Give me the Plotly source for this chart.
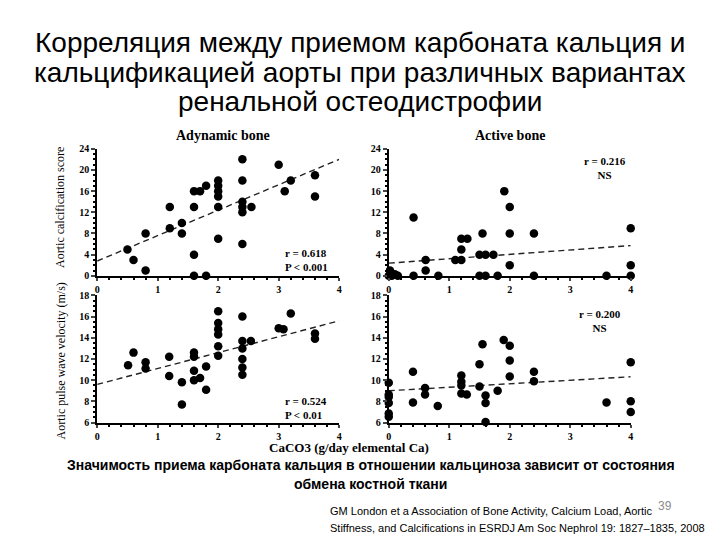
import plotly.graph_objects as go

# ---------------- data ----------------
ady_calc_x = [0.5, 0.6, 0.8, 0.8, 1.2, 1.2, 1.4, 1.4, 1.6, 1.7, 1.6, 1.6, 1.6, 1.8, 1.8,
              2.0, 2.0, 2.0, 2.0, 2.0, 2.0, 2.4, 2.4, 2.4, 2.4, 2.4, 2.4, 2.55, 3.0, 3.1,
              3.2, 3.6, 3.6]
ady_calc_y = [5, 3, 8, 1, 13, 9, 10, 8, 16, 16, 13, 4, 0, 17, 0,
              18, 17, 16, 15, 13, 7, 22, 18, 14, 13, 12, 6, 13, 21, 16,
              18, 19, 15]

act_calc_x = [0.0, 0.02, 0.05, 0.05, 0.1, 0.15, 0.41, 0.41, 0.61, 0.61, 0.82, 1.1, 1.2, 1.2,
              1.2, 1.3, 1.5, 1.55, 1.5, 1.6, 1.6, 1.73, 1.8, 1.91, 2.0, 2.0, 2.0, 2.4,
              2.4, 3.6, 4.0, 4.0, 4.0]
act_calc_y = [0, 1, 0, 0.5, 0.3, 0, 11, 0, 3, 1, 0, 3, 3, 5,
              7, 7, 4, 8, 0, 4, 0, 4, 0, 16, 13, 8, 2, 8,
              0, 0, 9, 2, 0]

ady_pwv_x = [0.51, 0.6, 0.8, 0.8, 1.19, 1.19, 1.4, 1.4, 1.6, 1.6, 1.6, 1.6, 1.7, 1.8, 1.8,
             2.0, 2.0, 2.0, 2.0, 2.0, 2.0, 2.4, 2.4, 2.4, 2.4, 2.4, 2.4, 2.54, 3.0, 3.08,
             3.2, 3.6, 3.6]
ady_pwv_y = [11.4, 12.6, 11.7, 11.1, 12.2, 10.4, 9.8, 7.7, 12.6, 12.2, 10.9, 10.0, 10.2, 11.3, 9.1,
             16.5, 15.4, 14.8, 14.3, 13.2, 12.3, 16.0, 13.7, 13.0, 12.0, 11.2, 10.5, 13.7, 14.9, 14.8,
             16.3, 14.4, 13.9]

act_pwv_x = [0.0, 0.0, 0.0, 0.0, 0.0, 0.0, 0.4, 0.4, 0.6, 0.6, 0.81, 1.2, 1.2, 1.2, 1.2, 1.29,
             1.5, 1.5, 1.55, 1.6, 1.6, 1.6, 1.8, 1.9, 2.0, 2.0, 2.0, 2.4, 2.4, 3.6,
             4.0, 4.0, 4.0]
act_pwv_y = [9.75, 8.65, 8.4, 7.85, 6.85, 6.55, 10.8, 7.9, 9.25, 8.65, 7.55, 10.45, 9.85, 9.5, 8.75, 8.65,
             11.5, 9.4, 13.4, 8.55, 7.85, 6.05, 9.0, 13.8, 13.25, 11.85, 10.35, 10.8, 9.9, 7.9,
             11.7, 8.0, 7.0]

# regression lines (intercept, slope) per panel
fit_intercepts = [2.8, 2.4, 9.6, 9.0]
fit_slopes = [4.8, 0.83, 1.5, 0.33]
fit_x = [0, 4]

panel_titles = ["Adynamic bone", "Active bone"]
stat_texts = ["r = 0.618<br>P < 0.001", "r = 0.216<br>NS", "r = 0.524<br>P < 0.01", "r = 0.200<br>NS"]

title_lines = ["Корреляция между приемом карбоната кальция и",
               "кальцификацией аорты при различных вариантах",
               "ренальной остеодистрофии"]
subtitle_lines = ["Значимость приема карбоната кальция в отношении кальциноза зависит от состояния",
                  "обмена костной ткани"]
citation_lines = ["GM London et a Association of Bone Activity, Calcium Load, Aortic",
                  "Stiffness, and Calcifications in ESRDJ Am Soc Nephrol 19: 1827\u20131835, 2008"]
page_number = "39"

# ---------------- figure ----------------
W, H = 720, 540
def px(x):
    return x / W
def py(y):
    return 1 - y / H

fig = go.Figure()

panels = [
    (ady_calc_x, ady_calc_y, "x", "y"),
    (act_calc_x, act_calc_y, "x2", "y2"),
    (ady_pwv_x, ady_pwv_y, "x3", "y3"),
    (act_pwv_x, act_pwv_y, "x4", "y4"),
]

for i, (xs, ys, xa, ya) in enumerate(panels):
    fx = fit_x
    fy = [fit_intercepts[i] + fit_slopes[i] * v for v in fx]
    fig.add_trace(go.Scatter(x=fx, y=fy, xaxis=xa, yaxis=ya, mode="lines",
                             line=dict(color="#222222", width=1.4, dash="6px,4px"),
                             hoverinfo="skip", showlegend=False, cliponaxis=False))
    fig.add_trace(go.Scatter(x=xs, y=ys, xaxis=xa, yaxis=ya, mode="markers",
                             marker=dict(color="black", size=8.5, symbol="circle"),
                             showlegend=False, cliponaxis=False))

xdoms = [(px(95), px(339)), (px(389), px(633))]
ydoms_top = (py(276), py(146))
ydoms_bot = (py(426), py(296))

tickfont = dict(family="Liberation Serif", size=10, color="black", weight="bold")
common_x = dict(range=[0, 4.0], tickmode="array", tickvals=[0, 1, 2, 3, 4], ticks="outside",
                ticklen=3, tickwidth=1.5, showline=True, linecolor="black", linewidth=2,
                showgrid=False, zeroline=False, tickfont=tickfont,
                minor=dict(ticks="outside", ticklen=2, dtick=0.2, tickcolor="black"))
common_y = dict(ticks="outside", ticklen=4, tickwidth=1.5, showline=True, linecolor="black",
                linewidth=2, showgrid=False, zeroline=False, tickfont=tickfont)

fig.update_layout(
    width=W, height=H, margin=dict(l=0, r=0, t=0, b=0),
    paper_bgcolor="white", plot_bgcolor="white",
    xaxis=dict(domain=xdoms[0], anchor="y", **common_x),
    xaxis2=dict(domain=xdoms[1], anchor="y2", **common_x),
    xaxis3=dict(domain=xdoms[0], anchor="y3", **common_x),
    xaxis4=dict(domain=xdoms[1], anchor="y4", **common_x),
    yaxis=dict(domain=ydoms_top, anchor="x", range=[0, 24], dtick=4,
               minor=dict(ticks="outside", ticklen=2, dtick=1, tickcolor="black"), **common_y),
    yaxis2=dict(domain=ydoms_top, anchor="x2", range=[0, 24], dtick=4,
                minor=dict(ticks="outside", ticklen=2, dtick=1, tickcolor="black"), **common_y),
    yaxis3=dict(domain=ydoms_bot, anchor="x3", range=[6, 18], dtick=2,
                minor=dict(ticks="outside", ticklen=2, dtick=0.5, tickcolor="black"), **common_y),
    yaxis4=dict(domain=ydoms_bot, anchor="x4", range=[6, 18], dtick=2,
                minor=dict(ticks="outside", ticklen=2, dtick=0.5, tickcolor="black"), **common_y),
)

ann = []
sans = "Liberation Sans"
serif = "Liberation Serif"
# title lines
for yy, t in zip([37, 68, 98], title_lines):
    ann.append(dict(x=px(360), y=py(yy), xref="paper", yref="paper", text=t, showarrow=False,
                    xanchor="center", yanchor="middle", font=dict(family=sans, size=28, color="black")))
# panel titles
ann.append(dict(x=px(222), y=py(132), xref="paper", yref="paper", text="<b>" + panel_titles[0] + "</b>",
                showarrow=False, xanchor="center", yanchor="middle", font=dict(family=serif, size=14, color="black")))
ann.append(dict(x=px(511), y=py(132), xref="paper", yref="paper", text="<b>" + panel_titles[1] + "</b>",
                showarrow=False, xanchor="center", yanchor="middle", font=dict(family=serif, size=14, color="black")))
# y-axis titles
ann.append(dict(x=px(58), y=py(206), xref="paper", yref="paper", text="Aortic calcification score",
                showarrow=False, textangle=-90, xanchor="center", yanchor="middle",
                font=dict(family=serif, size=12, color="black")))
ann.append(dict(x=px(58), y=py(363), xref="paper", yref="paper", text="Aortic pulse wave velocity (m/s)",
                showarrow=False, textangle=-90, xanchor="center", yanchor="middle",
                font=dict(family=serif, size=12, color="black")))
# x-axis title
ann.append(dict(x=px(349), y=py(452), xref="paper", yref="paper", text="<b>CaCO3 (g/day elemental Ca)</b>",
                showarrow=False, xanchor="center", yanchor="middle", font=dict(family=serif, size=13, color="black")))
# stats
stat_pos = [(306, 260), (607, 166), (306, 411), (602, 322)]
for (sx, sy), t in zip(stat_pos, stat_texts):
    ann.append(dict(x=px(sx), y=py(sy), xref="paper", yref="paper", text="<b>" + t + "</b>",
                    showarrow=False, xanchor="center", yanchor="middle", align="left" if "P" in t else "center",
                    font=dict(family=serif, size=11, color="black")))
# subtitle
for yy, t in zip([469, 489], subtitle_lines):
    ann.append(dict(x=px(371), y=py(yy), xref="paper", yref="paper", text="<b>" + t + "</b>", showarrow=False,
                    xanchor="center", yanchor="middle", font=dict(family=sans, size=14, color="black")))
# citation
for yy, t in zip([516, 534], citation_lines):
    ann.append(dict(x=px(328), y=py(yy), xref="paper", yref="paper", text=t, showarrow=False,
                    xanchor="left", yanchor="middle", font=dict(family=sans, size=11, color="black")))
ann.append(dict(x=px(668), y=py(511), xref="paper", yref="paper", text=page_number, showarrow=False,
                xanchor="center", yanchor="middle", font=dict(family=sans, size=12, color="#8c8c8c")))

fig.update_layout(annotations=ann)
fig.write_html("out.html")
